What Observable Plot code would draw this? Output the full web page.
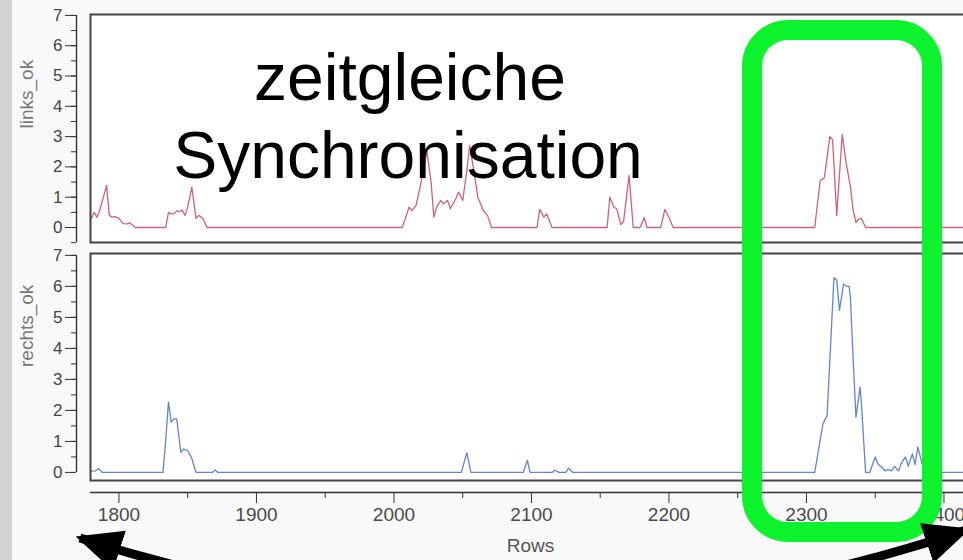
<!DOCTYPE html>
<html><head><meta charset="utf-8">
<script src="https://cdn.jsdelivr.net/npm/d3@7"></script>
<script src="https://cdn.jsdelivr.net/npm/@observablehq/plot@0.6"></script>
<style>
html,body{margin:0;padding:0;background:#f9f9f9;}
#chart{position:relative;width:963px;height:560px;overflow:hidden;background:#f9f9f9;font-family:"Liberation Sans",Arial,Helvetica,sans-serif;}
#chart > svg{position:absolute;left:0;top:0;max-width:none !important;}
#strip{position:absolute;left:0;top:0;width:12px;height:560px;background:#d2d2d2;}
</style></head><body>
<div id="chart"><div id="strip"></div></div>
<script>
// ---- data ----
const linksRows = [1780,1782,1784,1786,1791,1793,1795,1797,1800,1803,1806,1808,1812,1834,1836,1838,1840,1842,1844,1846,1848,1850,1853,1856,1858,1861,1864,
  2006,2009,2011,2013,2016,2019,2022,2024,2027,2029,2031,2034,2036,2039,2041,2045,2047,2050,2053,2055,2058,2061,2065,2068,2071,
  2104,2106,2109,2111,2115,2155,2157,2160,2162,2165,2167,2171,2174,2179,2182,2184,2194,2197,2200,2203,
  2306,2310,2313,2317,2319,2322,2326,2329,2332,2334,2336,2338,2340,2343,2414];
const linksValues = [0.3,0.5,0.34,0.56,1.39,0.4,0.34,0.36,0.3,0.13,0.12,0.15,0,0,0.5,0.45,0.45,0.55,0.52,0.58,0.4,0.67,1.33,0.3,0.4,0.3,0,
  0,0.4,0.67,0.56,0.72,1.33,2.0,2.5,1.5,0.34,0.67,0.89,0.78,0.89,0.62,0.95,1.17,0.89,1.88,2.7,1.9,1.0,0.56,0.4,0,
  0,0.6,0.34,0.45,0,0,1.0,0.67,0.62,0.1,0.2,1.72,0,0,0.33,0,0,0.6,0.34,0,
  0,1.55,1.64,3.0,2.9,0.4,3.07,2.1,1.33,0.56,0.17,0.28,0.3,0,0];

const rechtsRows = [1780,1783,1785,1788,1832,1834,1836,1838,1840,1842,1845,1847,1850,1853,1856,1868,1870,1872,
  2049,2053,2056,2094,2097,2099,2115,2117,2120,2125,2127,2130,
  2306,2312,2315,2320,2322,2324,2327,2329,2331,2332,2334,2336,2339,2340,2343,2346,2350,2352,2355,2357,2359,2362,2364,2367,2369,2372,2374,2377,2379,2381,2384,2387,2414];
const rechtsValues = [0.04,0.05,0.13,0,0,1.03,2.27,1.62,1.73,1.73,0.65,0.76,0.7,0.45,0,0,0.08,0,
  0,0.63,0,0,0.39,0,0,0.07,0,0,0.14,0,
  0,1.57,1.84,6.28,6.2,5.23,6.08,6.0,6.0,5.6,3.6,1.78,2.75,2.2,0,0,0.5,0.27,0.16,0.05,0.1,0.05,0.2,0.05,0.3,0.5,0.2,0.6,0.25,0.82,0.3,0,0];

const yTicks = [0,1,2,3,4,5,6,7];
const xTicks = [1800,1900,2000,2100,2200,2300,2400];
const xMinorTicks = [1850,1950,2050,2150,2250,2350];
const xLabel = "Rows";
const seriesNames = ["links_ok","rechts_ok"];
const annotationLines = ["zeitgleiche","Synchronisation"];

const links = linksRows.map((r,i)=>({row:r, v:linksValues[i]}));
const rechts = rechtsRows.map((r,i)=>({row:r, v:rechtsValues[i]}));

const xDomain = [1779.3, 2419.3];
const FONT = '"Liberation Sans", Arial, Helvetica, sans-serif';
const baseStyle = {fontFamily: FONT, fontSize: "16px", background: "transparent", overflow: "visible", color: "#3a3a3a", maxWidth: "none"};

function yAxisMarks(minorFrom, name) {
  const minor = d3.range(minorFrom*2, 15).map(d=>d/2);
  return [
    Plot.ruleX([xDomain[0]], {y1: minorFrom, y2: 7, dx: -14, stroke: "#333", strokeWidth: 1.4}),
    Plot.axisY(minor, {anchor: "left", dx: -14, tickSize: 5, tickFormat: () => "", stroke: "#333", label: null}),
    Plot.axisY(yTicks, {anchor: "left", dx: -14, tickSize: 11, tickPadding: 3, tickFormat: d => String(d), stroke: "#333", fill: "#444", fontSize: 17, label: null}),
    Plot.text([name], {frameAnchor: "left", text: d => d, rotate: -90, dx: -64, fill: "#777", fontSize: 19, fontFamily: FONT})
  ];
}

// ---- top panel ----
const topPlot = Plot.plot({
  width: 1000, height: 243, marginTop: 14, marginBottom: 1, marginLeft: 90, marginRight: 30,
  style: baseStyle,
  x: {domain: xDomain, axis: null},
  y: {domain: [-0.495, 7.03], axis: null},
  marks: [
    Plot.frame({fill: "white", stroke: null}),
    Plot.line(links, {x: "row", y: "v", stroke: "#d06274", strokeWidth: 1.3}),
    Plot.frame({stroke: "#444", strokeWidth: 2}),
    ...yAxisMarks(-0.5, seriesNames[0])
  ]
});

// ---- bottom panel with x axis ----
const bottomPlot = Plot.plot({
  width: 1000, height: 560, marginTop: 253, marginBottom: 80, marginLeft: 90, marginRight: 30,
  style: baseStyle,
  x: {domain: xDomain, axis: null},
  y: {domain: [-0.26, 7.06], axis: null},
  marks: [
    Plot.frame({fill: "white", stroke: null}),
    Plot.line(rechts, {x: "row", y: "v", stroke: "#5f84d3", strokeWidth: 1.3}),
    Plot.frame({stroke: "#444", strokeWidth: 2}),
    ...yAxisMarks(0, seriesNames[1]),
    Plot.ruleY([-0.26], {dy: 12, stroke: "#333", strokeWidth: 1.6}),
    Plot.axisX(xMinorTicks, {anchor: "bottom", dy: 12, tickSize: 6, tickFormat: () => "", stroke: "#333", label: null}),
    Plot.axisX(xTicks, {anchor: "bottom", dy: 12, tickSize: 11, tickPadding: 4, tickFormat: d => String(d), stroke: "#333", fill: "#4a4a4a", fontSize: 19, label: null}),
    Plot.text([xLabel], {frameAnchor: "bottom", text: d => d, dy: 71, fill: "#555", fontSize: 19, fontFamily: FONT})
  ]
});

const chart = document.getElementById("chart");
chart.appendChild(topPlot);
chart.appendChild(bottomPlot);

// ---- annotation overlay (text, highlight box, arrows) ----
const svg = d3.select(chart).append("svg").attr("width", 963).attr("height", 560);
const defs = svg.append("defs");
defs.append("marker").attr("id","head").attr("viewBox","0 0 10 10").attr("preserveAspectRatio","none")
  .attr("refX", 9).attr("refY", 5).attr("markerUnits","userSpaceOnUse")
  .attr("markerWidth", 46).attr("markerHeight", 42).attr("orient","auto-start-reverse")
  .append("path").attr("d","M0,0 L10,5 L0,10 Z").attr("fill","#000");

svg.append("text").attr("x", 410).attr("y", 100).attr("text-anchor","middle")
  .attr("font-family", FONT).attr("font-size", 66).attr("fill","#000").text(annotationLines[0]);
svg.append("text").attr("x", 408).attr("y", 178).attr("text-anchor","middle")
  .attr("font-family", FONT).attr("font-size", 66).attr("fill","#000").text(annotationLines[1]);

svg.append("rect").attr("x", 752).attr("y", 30).attr("width", 180).attr("height", 502)
  .attr("rx", 36).attr("ry", 36).attr("fill","none").attr("stroke","#0cf22c").attr("stroke-width", 20);

svg.append("path").attr("d","M80,538 Q520,680 966,530").attr("fill","none")
  .attr("stroke","#000").attr("stroke-width", 9)
  .attr("marker-start","url(#head)").attr("marker-end","url(#head)");
</script>
</body></html>
